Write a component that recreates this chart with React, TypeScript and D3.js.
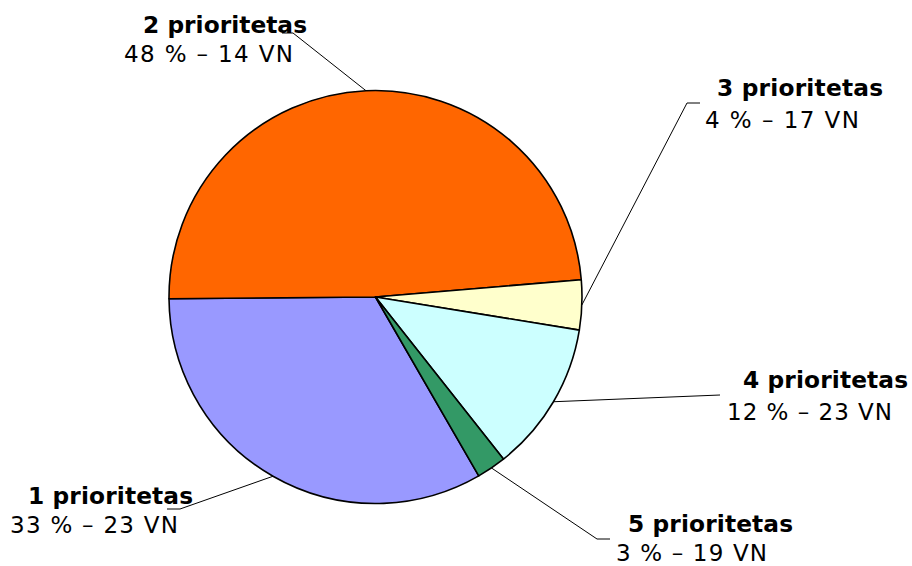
import React from "react";
import * as d3 from "d3";

const categories = ["1 prioritetas", "2 prioritetas", "3 prioritetas", "4 prioritetas", "5 prioritetas"];
const shares = [33.2, 48.8, 3.9, 11.8, 2.3];
const valueLabels = ["33 % – 23 VN", "48 % – 14 VN", "4 % – 17 VN", "12 % – 23 VN", "3 % – 19 VN"];
const colors = ["#9999FF", "#FF6600", "#FFFFCC", "#CCFFFF", "#339966"];

// label layout: title x/baseline/width, value line x/baseline/width, leader elbow & end
const labelLayout = [
  { tx: 28, ty: 504, tw: 165, vx: 10, vy: 533, vw: 168, elbow: [180, 509], end: [167, 509] },
  { tx: 143, ty: 33, tw: 164, vx: 124, vy: 62, vw: 169, elbow: [293, 33], end: [282, 33] },
  { tx: 717, ty: 96, tw: 166, vx: 705, vy: 128, vw: 154, elbow: [687, 103], end: [700, 103] },
  { tx: 743, ty: 388, tw: 165, vx: 727, vy: 420, vw: 165, elbow: [720, 395], end: [720, 395] },
  { tx: 628, ty: 532, tw: 165, vx: 616, vy: 561, vw: 151, elbow: [597, 539], end: [610, 539] },
];

const W = 912;
const H = 566;
const cx = 375.5;
const cy = 297;
const R = 206.5;

export default function App() {
  const startDeg = 150;
  const pie = d3
    .pie<number>()
    .sort(null)
    .value((d) => d)
    .startAngle((startDeg * Math.PI) / 180)
    .endAngle(((startDeg + 360) * Math.PI) / 180);
  const arcs = pie(shares);
  const arc = d3.arc<d3.PieArcDatum<number>>().innerRadius(0).outerRadius(R);
  const font = "'DejaVu Sans', Verdana, sans-serif";

  return (
    <svg
      width={W}
      height={H}
      style={{ position: "absolute", left: 0, top: 0, background: "#fff" }}
    >
      <g transform={`translate(${cx},${cy})`}>
        {arcs.map((a, i) => (
          <path key={i} d={arc(a) || ""} fill={colors[i]} stroke="#000" strokeWidth={1.6} strokeLinejoin="round" />
        ))}
      </g>
      {arcs.map((a, i) => {
        const mid = (a.startAngle + a.endAngle) / 2;
        const px = cx + R * Math.sin(mid);
        const py = cy - R * Math.cos(mid);
        const L = labelLayout[i];
        const pts = [[px, py], L.elbow, L.end];
        return (
          <g key={"l" + i}>
            <polyline
              points={pts.map((p) => p.join(",")).join(" ")}
              fill="none"
              stroke="#000"
              strokeWidth={1}
            />
            <text
              x={L.tx}
              y={L.ty}
              fontFamily={font}
              fontSize={23.3}
              fontWeight="bold"
              fill="#000"
              textLength={L.tw}
              lengthAdjust="spacing"
            >
              {categories[i]}
            </text>
            <text
              x={L.vx}
              y={L.vy}
              fontFamily={font}
              fontSize={23}
              fill="#000"
              textLength={L.vw}
              lengthAdjust="spacing"
            >
              {valueLabels[i]}
            </text>
          </g>
        );
      })}
    </svg>
  );
}
